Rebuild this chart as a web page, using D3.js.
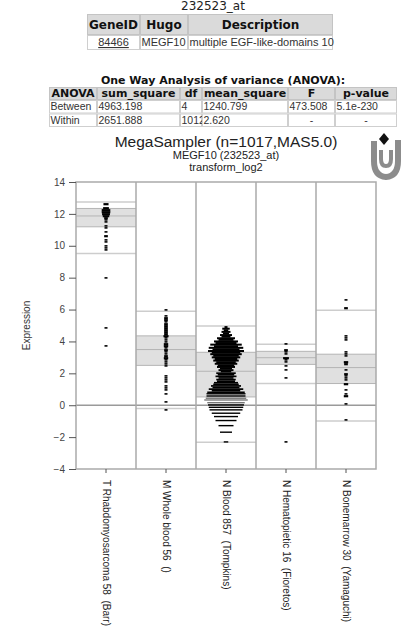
<!DOCTYPE html>
<html>
<head>
<meta charset="utf-8">
<script src="https://d3js.org/d3.v7.min.js"></script>
<style>
  body { margin: 0; background: #fff; }
  svg { display: block; }
</style>
</head>
<body>
<script>
// ---- data ----
var probeId = "232523_at";
var geneHeader = ["GeneID", "Hugo", "Description"];
var geneRow = ["84466", "MEGF10", "multiple EGF-like-domains 10"];

var anovaTitle = "One Way Analysis of variance (ANOVA):";
var anovaHeader = ["ANOVA", "sum_square", "df", "mean_square", "F", "p-value"];
var anovaBetween = ["Between", "4963.198", "4", "1240.799", "473.508", "5.1e-230"];
var anovaWithin = ["Within", "2651.888", "1012", "2.620", "-", "-"];

var chartTitle = "MegaSampler (n=1017,MAS5.0)";
var chartSub1 = "MEGF10 (232523_at)";
var chartSub2 = "transform_log2";
var yLabel = "Expression";

var categories = [
  "T Rhabdomyosarcoma 58  (Barr)",
  "M Whole blood 56  ()",
  "N Blood 857  (Tompkins)",
  "N Hematopietic 16  (Fioretos)",
  "N Bonemarrow 30  (Yamaguchi)"
];

// box lines per group (upper line, box top, median, box bottom, lower line)
var boxUpper  = [12.75, 5.90, 4.97, 3.83, 5.96];
var boxQ3     = [12.34, 4.35, 3.32, 3.38, 3.20];
var boxMedian = [11.87, 3.49, 2.13, 2.98, 2.36];
var boxQ1     = [11.19, 2.50, 0.52, 2.56, 1.36];
var boxLower  = [9.52, -0.20, -2.33, 1.36, -0.99];

var rhabdoValues = [12.68, 12.65, 12.63, 12.60,
  12.40, 12.37, 12.35, 12.34, 12.31, 12.30, 12.29, 12.27, 12.26, 12.25, 12.23, 12.21,
  12.20, 12.19, 12.18, 12.16, 12.15, 12.13, 12.11, 12.10, 12.09, 12.08, 12.06, 12.05,
  12.03, 12.01, 12.00, 11.99, 11.98, 11.96, 11.95, 11.93, 11.91, 11.90, 11.88, 11.85,
  11.82, 11.80,
  11.71, 11.56, 11.44, 11.29, 11.08, 10.87, 10.66, 10.56, 10.41, 10.24, 10.04, 9.87, 9.72,
  8.00, 4.90, 3.70];

var wholeBloodValues = [5.92, 5.58, 5.50, 5.44, 5.35, 5.29, 5.16, 5.10, 5.04, 4.97,
  4.91, 4.85, 4.79, 4.72, 4.66, 4.60, 4.54, 4.48, 4.41, 4.36, 4.33, 4.33, 4.30, 4.18,
  4.03, 3.91, 3.88, 3.85, 3.82, 3.76, 3.70, 3.66, 3.55, 3.48, 3.41, 3.28, 3.20, 3.14,
  3.05, 3.00, 2.99, 2.97, 2.82, 2.65, 2.55, 2.51, 1.82, 1.67, 1.57, 1.42, 1.25, 1.11,
  0.94, 0.73, 0.21, -0.31];

// N Blood 857: too dense for single dashes, read as value levels and counts
var blood857Levels = [4.9, 4.8, 4.7, 4.6, 4.5, 4.4, 4.3, 4.2, 4.1, 4.0,
  3.9, 3.8, 3.7, 3.6, 3.5, 3.4, 3.3, 3.2, 3.1, 3.0,
  2.9, 2.8, 2.7, 2.6, 2.5, 2.4, 2.3, 2.2, 2.1, 2.0,
  1.9, 1.8, 1.7, 1.6, 1.5, 1.4, 1.3, 1.2, 1.1, 1.0,
  0.9, 0.8, 0.7, 0.56, 0.42, 0.31, 0.14, 0.0, -0.15, -0.31,
  -0.52, -0.73, -0.98, -1.3, -1.71, -2.32];
var blood857Counts = [2, 5, 3, 6, 4, 8, 6, 12, 10, 16,
  14, 21, 16, 23, 18, 24, 19, 21, 17, 19,
  15, 17, 13, 15, 11, 12, 8, 10, 7, 13,
  11, 14, 10, 13, 12, 16, 17, 20, 18, 23,
  19, 25, 26, 26, 27, 29, 25, 24, 23, 22,
  19, 16, 14, 10, 8, 3];

var hematoValues = [3.81, 3.51, 3.45, 3.30, 3.18, 3.01, 3.00, 2.99, 2.98, 2.97,
  2.89, 2.68, 2.47, 2.24, 1.71, -2.30];

var boneMarrowValues = [6.59, 6.15, 6.10, 4.35, 4.24, 4.14, 3.28, 3.18, 3.07, 2.70,
  2.67, 2.65, 2.62, 2.57, 2.24, 1.94, 1.90, 1.84, 1.74, 1.61,
  1.38, 1.36, 1.34, 0.94, 0.73, 0.63, 0.60, 0.52, 0.04, -0.98];

var yTicks = [-4, -2, 0, 2, 4, 6, 8, 10, 12, 14];

// ---- page ----
var svgWidth = 402;
var svgHeight = 637;
var plot = {left: 76, right: 376, top: 182, bottom: 469};

var svg = d3.select("body").append("svg")
  .attr("width", svgWidth)
  .attr("height", svgHeight)
  .style("font-family", "'Liberation Sans', Arial, sans-serif");

svg.append("rect").attr("width", svgWidth).attr("height", svgHeight).attr("fill", "#fff");

// generic html-like table drawn in svg
function drawTable(edges, rowTops, rows, opts) {
  var g = svg.append("g");
  rows.forEach(function(row, r) {
    var y0 = rowTops[r], y1 = rowTops[r + 1];
    var isHead = r === 0;
    row.forEach(function(txt, c) {
      var x0 = edges[c], x1 = edges[c + 1];
      g.append("rect")
        .attr("x", x0 + 0.5).attr("y", y0 + 0.5)
        .attr("width", x1 - x0 - 1).attr("height", y1 - y0 - 1)
        .attr("fill", isHead ? "#dadada" : "#fff")
        .attr("stroke", isHead ? "#c4c4c4" : "#cfcfcf")
        .attr("stroke-width", 1);
      var align = isHead ? "middle" : (opts.align ? opts.align(r, c, txt) : "start");
      var tx = align === "middle" ? (x0 + x1) / 2 : x0 + 1.5;
      var t = g.append("text")
        .attr("x", tx)
        .attr("y", y1 - opts.baseOff[isHead ? 0 : 1])
        .attr("text-anchor", align)
        .text(txt);
      if (isHead) {
        t.attr("font-family", "'DejaVu Sans', Verdana, sans-serif")
          .attr("font-weight", "bold").attr("font-size", opts.headSize).attr("fill", "#111");
      } else {
        t.attr("font-size", opts.cellSize).attr("fill", "#333");
      }
      if (opts.link && opts.link(r, c)) t.attr("text-decoration", "underline");
    });
  });
  return g;
}

drawTable([87, 140, 188, 333], [14, 35, 50], [geneHeader, geneRow], {
  baseOff: [6, 4], headSize: 12, cellSize: 11,
  align: function(r, c) { return c === 0 ? "middle" : "start"; },
  link: function(r, c) { return r === 1 && c === 0; }
});

// probe id
svg.append("text")
  .attr("x", 213).attr("y", 10)
  .attr("text-anchor", "middle")
  .attr("font-family", "'DejaVu Sans', Verdana, sans-serif")
  .attr("font-size", 12).attr("fill", "#222")
  .text(probeId);

svg.append("text")
  .attr("x", 223).attr("y", 84)
  .attr("text-anchor", "middle")
  .attr("font-family", "'DejaVu Sans', Verdana, sans-serif")
  .attr("font-weight", "bold").attr("font-size", 11).attr("fill", "#111")
  .text(anovaTitle);

drawTable([49, 97, 180, 202, 288, 335, 397], [87, 100, 113.5, 127],
  [anovaHeader, anovaBetween, anovaWithin], {
  baseOff: [3, 3.5], headSize: 11, cellSize: 10.5,
  align: function(r, c, txt) { return txt === "-" ? "middle" : "start"; }
});

// chart titles
svg.append("text").attr("x", 226).attr("y", 146.5).attr("text-anchor", "middle")
  .attr("font-size", 15.5).attr("fill", "#222").text(chartTitle);
svg.append("text").attr("x", 226).attr("y", 159).attr("text-anchor", "middle")
  .attr("font-size", 11).attr("fill", "#222").text(chartSub1);
svg.append("text").attr("x", 226).attr("y", 171).attr("text-anchor", "middle")
  .attr("font-size", 11).attr("fill", "#222").text(chartSub2);

// logo
var logo = svg.append("g");
logo.append("path")
  .attr("d", "M374,141 L374,161 Q374,176 386,177 Q398,176 398,161 L398,140")
  .attr("fill", "none").attr("stroke", "#8c8c8c").attr("stroke-width", 6);
logo.append("path")
  .attr("d", "M381,150 L381,159 Q381,166 386,166 Q391,166 391,159 L391,150")
  .attr("fill", "none").attr("stroke", "#8c8c8c").attr("stroke-width", 4);
logo.append("path")
  .attr("d", "M384,133 L389,139 L384,145 L379,139 Z")
  .attr("fill", "#111");

// ---- scales ----
var x = d3.scaleBand().domain(categories).range([plot.left, plot.right]).padding(0);
var y = d3.scaleLinear().domain([-4, 14]).range([plot.bottom, plot.top]);

var chart = svg.append("g");

// boxes
categories.forEach(function(cat, i) {
  var x0 = x(cat), w = x.bandwidth();
  chart.append("rect")
    .attr("x", x0).attr("y", y(boxQ3[i]))
    .attr("width", w).attr("height", y(boxQ1[i]) - y(boxQ3[i]))
    .attr("fill", "#e0e0e0");
  [boxUpper[i], boxLower[i]].forEach(function(v) {
    chart.append("line")
      .attr("x1", x0).attr("x2", x0 + w)
      .attr("y1", y(v)).attr("y2", y(v))
      .attr("stroke", "#cdcdcd").attr("stroke-width", 1.5);
  });
  [boxQ3[i], boxMedian[i], boxQ1[i]].forEach(function(v) {
    chart.append("line")
      .attr("x1", x0).attr("x2", x0 + w)
      .attr("y1", y(v)).attr("y2", y(v))
      .attr("stroke", "#b4b4b4").attr("stroke-width", 1);
  });
});

// zero line
chart.append("line")
  .attr("x1", plot.left).attr("x2", plot.right)
  .attr("y1", y(0)).attr("y2", y(0))
  .attr("stroke", "#9a9a9a").attr("stroke-width", 1.5);

// frame and column separators
chart.append("rect")
  .attr("x", plot.left).attr("y", plot.top)
  .attr("width", plot.right - plot.left).attr("height", plot.bottom - plot.top)
  .attr("fill", "none").attr("stroke", "#aaa").attr("stroke-width", 1.5);
categories.slice(1).forEach(function(cat) {
  chart.append("line")
    .attr("x1", x(cat)).attr("x2", x(cat))
    .attr("y1", plot.top).attr("y2", plot.bottom)
    .attr("stroke", "#aaa").attr("stroke-width", 1.5);
});

// single points as dashes, merged when on the same pixel row
function drawDashes(values, cat) {
  var cx = x(cat) + x.bandwidth() / 2;
  var groups = d3.rollups(values, v => v.length, v => Math.round(y(v) / 2));
  chart.append("g").selectAll("rect")
    .data(groups)
    .enter()
    .append("rect")
    .attr("x", d => cx - (3 + (d[1] - 1) * 0.7) / 2)
    .attr("y", d => d[0] * 2 - 0.9)
    .attr("width", d => 3 + (d[1] - 1) * 0.7)
    .attr("height", d => d[1] > 1 ? 2.2 : 1.6)
    .attr("fill", "#000");
}
drawDashes(rhabdoValues, categories[0]);
drawDashes(wholeBloodValues, categories[1]);
drawDashes(hematoValues, categories[3]);
drawDashes(boneMarrowValues, categories[4]);

// dense group: one bar per level, width by count
var bloodCx = x(categories[2]) + x.bandwidth() / 2;
var countW = d3.scaleLinear().domain([0, 1]).range([0, 1.5]);
chart.append("g").selectAll("rect")
  .data(blood857Levels.map((v, k) => ({v: v, n: blood857Counts[k]})))
  .enter()
  .append("rect")
  .attr("x", d => bloodCx - countW(d.n) / 2)
  .attr("y", d => y(d.v) - 1)
  .attr("width", d => countW(d.n))
  .attr("height", d => d.v < 2.15 && d.v > 0.75 ? 1.7 : (d.v <= 0.75 ? 1.4 : 2))
  .attr("fill", d => (d.v > 0.1 && d.v < 0.5) ? "#777" : "#000");

// axes
var leftAxis = d3.axisLeft(y).tickValues(yTicks).tickSize(7).tickPadding(4);
var yAxis = svg.append("g")
  .attr("transform", `translate(${plot.left}, 0)`)
  .call(leftAxis);
yAxis.select(".domain").remove();
yAxis.selectAll("line").attr("stroke", "#555");
yAxis.selectAll("text")
  .attr("font-family", "'Liberation Sans', Arial, sans-serif")
  .attr("font-size", 10).attr("fill", "#444");

var bottomAxis = d3.axisBottom(x).tickSize(4).tickSizeOuter(0);
var xAxis = svg.append("g")
  .attr("transform", `translate(0, ${plot.bottom})`)
  .call(bottomAxis);
xAxis.select(".domain").remove();
xAxis.selectAll("line").attr("stroke", "#555");
xAxis.selectAll("text")
  .attr("font-family", "'Liberation Sans', Arial, sans-serif")
  .attr("font-size", 10).attr("fill", "#222")
  .attr("transform", "rotate(90)")
  .attr("x", 11).attr("y", 0).attr("dy", "0.35em")
  .attr("text-anchor", "start")
  .style("white-space", "pre");

svg.append("text")
  .attr("transform", `translate(30, ${(plot.top + plot.bottom) / 2}) rotate(-90)`)
  .attr("text-anchor", "middle")
  .attr("font-size", 10).attr("fill", "#333")
  .text(yLabel);
</script>
</body>
</html>
